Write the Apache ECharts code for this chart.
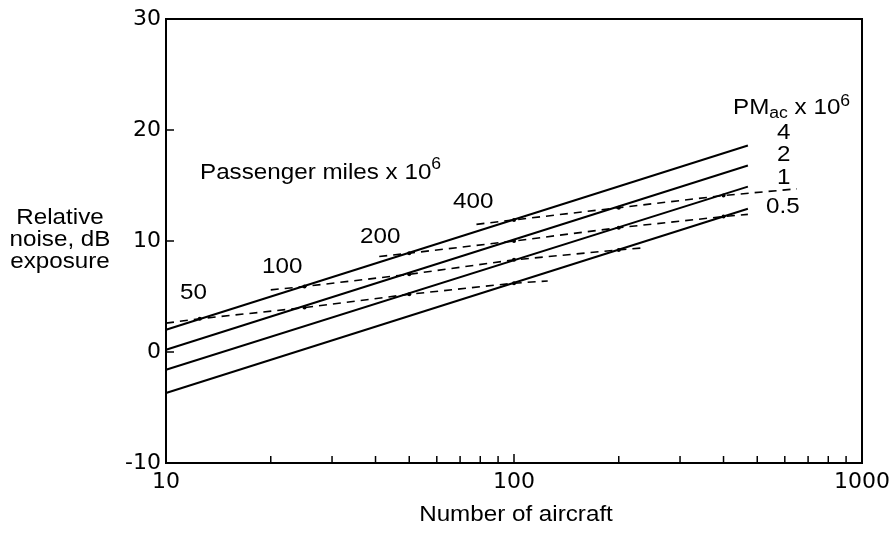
<!DOCTYPE html>
<html>
<head>
<meta charset="utf-8">
<title>Relative noise vs number of aircraft</title>
<script src="https://cdn.jsdelivr.net/npm/echarts@6/dist/echarts.min.js"></script>
<style>
html, body { margin: 0; padding: 0; background: #fff; }
#chart { width: 893px; height: 533px; }
</style>
</head>
<body>
<div id="chart"></div>
<script>
// axes
var xMin = 10, xMax = 1000;
var yMin = -10, yMax = 30, yStep = 10;
var xMinorTicks = [20, 30, 40, 50, 60, 70, 80, 90, 200, 300, 400, 500, 600, 700, 800, 900];

// PM_ac x 10^6 lines: number of aircraft at both ends, relative noise (dB) at both ends
var pmX = [10, 470];
var pm4Y = [2.0, 18.6];
var pm2Y = [0.2, 16.8];
var pm1Y = [-1.6, 14.9];
var pm05Y = [-3.7, 12.9];

// passenger miles x 10^6 (dashed), through the points where they meet the PM_ac lines
var pax50X = [10, 12.5, 25, 50, 100, 125];
var pax50Y = [2.6, 3.0, 4.0, 5.2, 6.2, 6.4];
var pax100X = [20, 25, 50, 100, 200, 240];
var pax100Y = [5.6, 5.9, 7.0, 8.3, 9.2, 9.4];
var pax200X = [41, 50, 100, 200, 400, 470];
var pax200Y = [8.6, 8.9, 10.0, 11.2, 12.2, 12.4];
var pax400X = [78, 100, 200, 400, 650];
var pax400Y = [11.5, 11.9, 13.0, 14.1, 14.7];

var FONT = 'Liberation Sans, Arial, sans-serif';
var FS = 22;        // text size
var STRETCH = 1.1;  // the scan is a little wider than tall

function solid(name, ys) {
    var pts = [];
    for (var i = 0; i < pmX.length; i++) pts.push([pmX[i], ys[i]]);
    return {
        name: name, type: 'line', data: pts,
        symbol: 'none', silent: true, animation: false,
        lineStyle: { color: '#000', width: 2 }
    };
}

function dashed(name, xs, ys) {
    var pts = [];
    for (var i = 0; i < xs.length; i++) {
        var end = (i === 0 || i === xs.length - 1);
        pts.push({ value: [xs[i], ys[i]], symbol: end ? 'none' : 'circle' });
    }
    return {
        name: name, type: 'line', data: pts,
        symbol: 'circle', symbolSize: 4, showSymbol: true,
        silent: true, animation: false,
        itemStyle: { color: '#000' },
        lineStyle: { color: '#000', width: 1.6, type: [8, 6] }
    };
}

function label(txt, x, y, align) {
    return {
        type: 'text', x: x, y: y, scaleX: STRETCH, silent: true,
        style: { text: txt, fontSize: FS, fontFamily: FONT, fill: '#000',
                 align: align || 'left', verticalAlign: 'middle' }
    };
}

var myChart = echarts.init(document.getElementById('chart'));

var option = {
    backgroundColor: '#fff',
    animation: false,
    grid: { left: 166, right: 27, top: 19, bottom: 70, show: true,
            borderColor: '#000', borderWidth: 2, backgroundColor: 'transparent' },
    xAxis: {
        type: 'log', logBase: 10, min: xMin, max: xMax,
        axisLine: { onZero: false, lineStyle: { color: '#000', width: 2 } },
        axisTick: { inside: true, length: 9, lineStyle: { color: '#000', width: 1.5 } },
        splitLine: { show: false },
        axisLabel: { color: '#000', fontSize: 22, fontFamily: 'DejaVu Sans', margin: 8,
                     formatter: function (v) { return String(v); } }
    },
    yAxis: {
        type: 'value', min: yMin, max: yMax, interval: yStep,
        axisLine: { show: true, onZero: false, lineStyle: { color: '#000', width: 2 } },
        axisTick: { show: true, inside: true, length: 8, lineStyle: { color: '#000', width: 1.5 } },
        splitLine: { show: false },
        axisLabel: { color: '#000', fontSize: 22, fontFamily: 'DejaVu Sans', margin: 5 }
    },
    series: [
        solid('4', pm4Y),
        solid('2', pm2Y),
        solid('1', pm1Y),
        solid('0.5', pm05Y),
        dashed('50', pax50X, pax50Y),
        dashed('100', pax100X, pax100Y),
        dashed('200', pax200X, pax200Y),
        dashed('400', pax400X, pax400Y),
        {
            // minor ticks of the log axis
            type: 'custom', silent: true, animation: false,
            data: xMinorTicks.map(function (v) { return [v, yMin]; }),
            renderItem: function (params, api) {
                var p = api.coord([api.value(0), api.value(1)]);
                return {
                    type: 'line',
                    shape: { x1: p[0], y1: p[1], x2: p[0], y2: p[1] - 7 },
                    style: { stroke: '#000', lineWidth: 1.5 }
                };
            }
        }
    ],
    graphic: [
        {
            type: 'text', x: 60, y: 240, scaleX: STRETCH, silent: true,
            style: { text: 'Relative\nnoise, dB\nexposure', fontSize: FS, lineHeight: 22,
                     fontFamily: FONT, fill: '#000', align: 'center', verticalAlign: 'middle' }
        },
        label('Number of aircraft', 516, 515, 'center'),
        {
            type: 'text', x: 200, y: 170, scaleX: STRETCH, silent: true,
            style: {
                text: '{a|Passenger miles x 10}{s|6}', align: 'left', verticalAlign: 'middle',
                rich: {
                    a: { fontSize: FS, fontFamily: FONT, fill: '#000', lineHeight: 27, verticalAlign: 'bottom' },
                    s: { fontSize: 16, fontFamily: FONT, fill: '#000', lineHeight: 27, verticalAlign: 'top' }
                }
            }
        },
        label('50', 180, 293),
        label('100', 262, 267),
        label('200', 360, 237),
        label('400', 453, 202),
        {
            type: 'text', x: 733, y: 108, scaleX: STRETCH, silent: true,
            style: {
                text: '{a|PM}{b|ac}{a| x 10}{s|6}', align: 'left', verticalAlign: 'middle',
                rich: {
                    a: { fontSize: FS, fontFamily: FONT, fill: '#000', lineHeight: 28 },
                    b: { fontSize: 16, fontFamily: FONT, fill: '#000', lineHeight: 28, verticalAlign: 'bottom' },
                    s: { fontSize: 16, fontFamily: FONT, fill: '#000', lineHeight: 28, verticalAlign: 'top' }
                }
            }
        },
        label('4', 777, 133),
        label('2', 777, 155),
        label('1', 777, 178),
        label('0.5', 766, 207)
    ]
};

myChart.setOption(option);
</script>
</body>
</html>
